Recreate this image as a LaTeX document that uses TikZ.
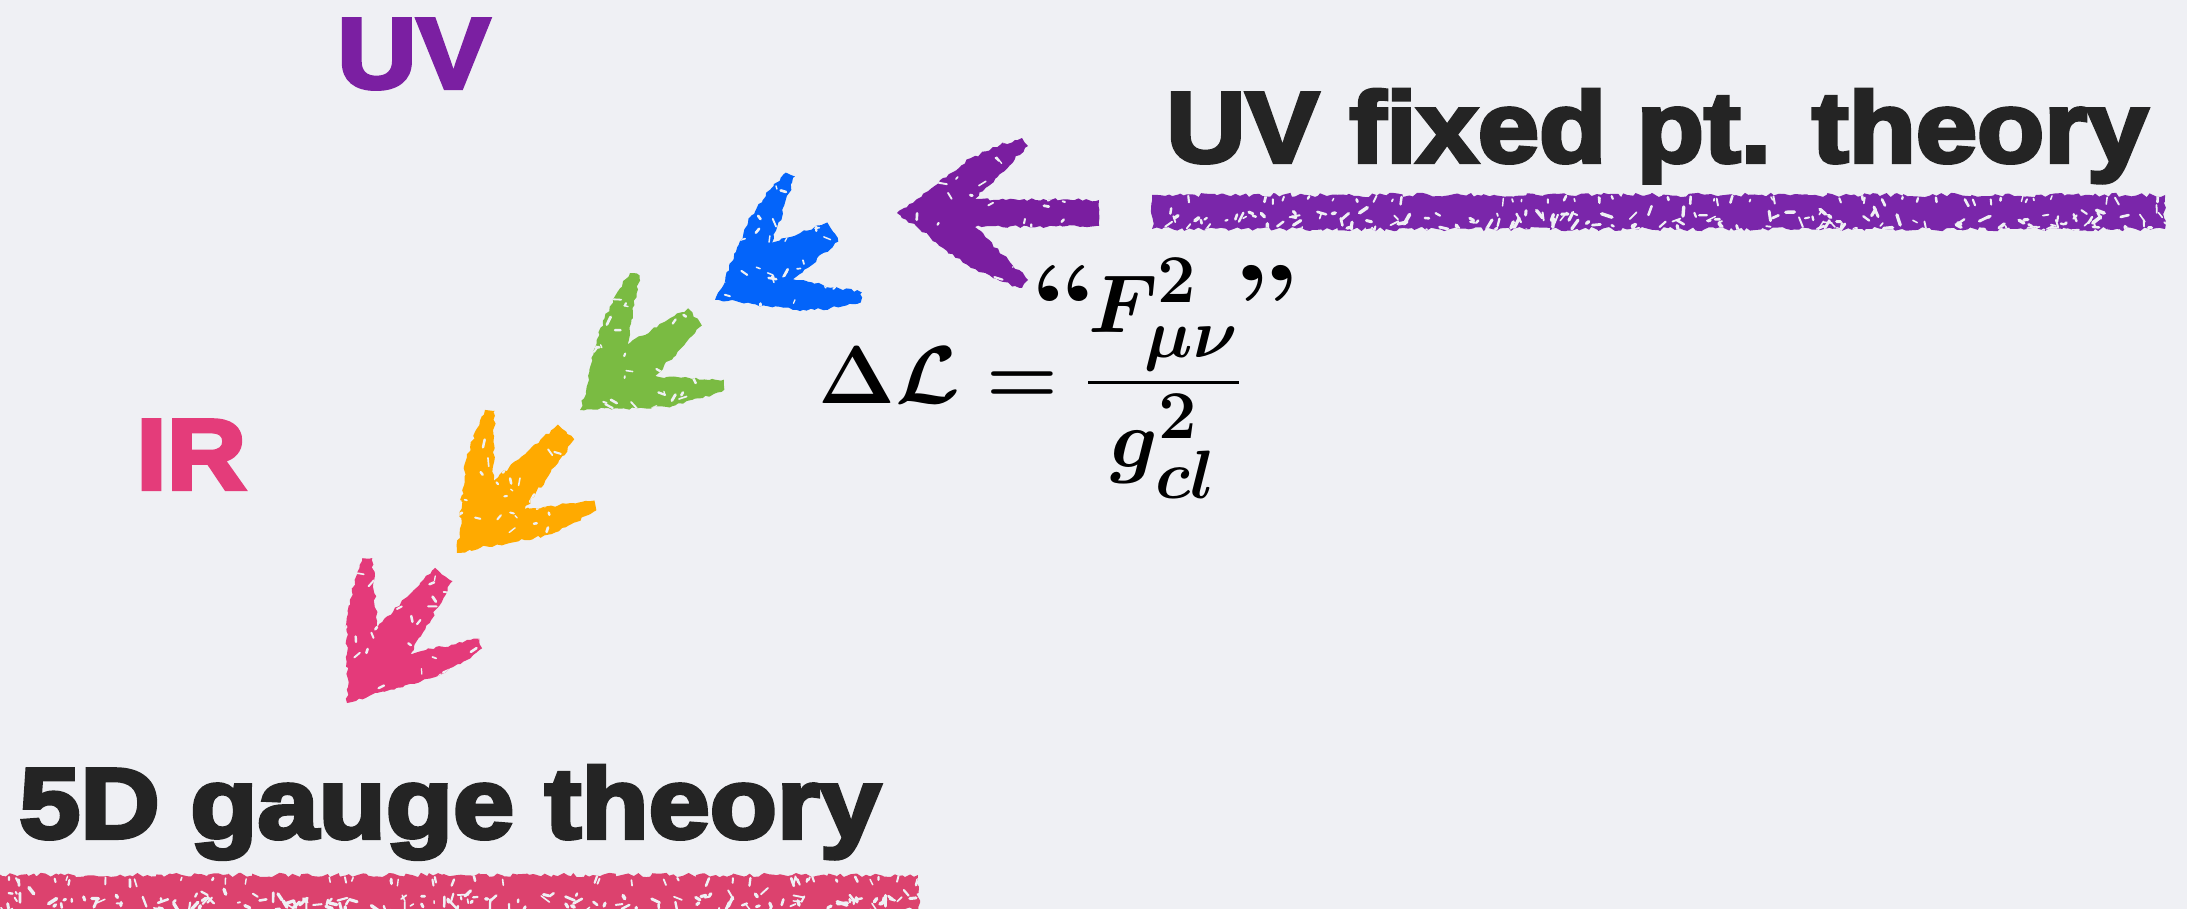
\documentclass[tikz,border=0pt]{standalone}
\usepackage{fontspec}
\usepackage{amsmath}
\usepackage{graphicx}
\usetikzlibrary{decorations.pathmorphing}
\newfontfamily\heavy[FakeStretch=1.10,BoldFeatures={FakeBold=4}]{Liberation Sans}
\definecolor{bgc}{RGB}{239,240,244}
\definecolor{ink}{RGB}{36,36,36}
\definecolor{uvpurple}{RGB}{123,31,162}
\definecolor{irpink}{RGB}{228,60,122}
\definecolor{apurple}{RGB}{122,30,160}
\definecolor{ablue}{RGB}{3,100,250}
\definecolor{agreen}{RGB}{122,187,66}
\definecolor{aorange}{RGB}{255,170,0}
\definecolor{apink}{RGB}{228,58,122}
\definecolor{lpurple}{RGB}{122,38,170}
\definecolor{lpink}{RGB}{220,66,110}
\newsavebox\formbox
\newcommand\bigquote[1]{\raisebox{-0.09em}{\scalebox{1.5}[1.3]{\textbf{#1}}}}
\tikzset{
  bigtext/.style={anchor=base west,inner sep=0pt,text=ink,font=\heavy\bfseries\fontsize{100}{104}\selectfont},
  labtext/.style={anchor=base west,inner sep=0pt,font=\heavy\bfseries\fontsize{100}{104}\selectfont},
  rough/.style={decorate,decoration={random steps,segment length=4pt,amplitude=1.5pt}},
  roughline/.style={decorate,decoration={random steps,segment length=4pt,amplitude=2.2pt}},
  speck/.style={bgc,line cap=round}
}
% #1 name, #2 x, #3 y, #4 angle, #5 shaft length, #6 colour, #7 seed, #8 notch half-width, #9 end half-width
\newcommand\chalkarrow[9]{%
\begin{scope}[shift={(#2,#3)},rotate=#4]
\coordinate (#1) at (0,0);
\pgfmathsetseed{#7}
\begin{scope}
\clip[rough] (0,0) -- (20,14) -- (46,35) -- (74,55) -- (103,68) -- (118,73) -- (125,75) -- (131,67) -- (78,#8) -- (#5,#9) -- (#5,-#9) -- (78,-#8) -- (131,-67) -- (125,-75) -- (118,-73) -- (103,-68) -- (74,-55) -- (46,-35) -- (20,-14) -- cycle;
\fill[#6] (-10,-85) rectangle (#5+10,85);
\foreach \k in {1,...,50}{%
  \pgfmathsetmacro\qx{10+rnd*(#5-10)}%
  \pgfmathsetmacro\qy{rand*72}%
  \pgfmathsetmacro\qr{rnd*360}%
  \pgfmathsetmacro\ql{2+rnd*7}%
  \pgfmathsetmacro\qw{1.2+rnd*1.6}%
  \draw[speck,line width=\qw pt] (\qx,\qy) -- ++(\qr:\ql);
}
\end{scope}
\end{scope}}
% #1 name, #2 x1, #3 y1, #4 x2, #5 y2, #6 colour, #7 seed
\newcommand\chalkline[7]{%
\coordinate (#1) at (#2,#3);
\pgfmathsetseed{#7}
\begin{scope}
\clip[roughline] (#2,#3) rectangle (#4,#5);
\fill[#6] (#2-5,#3-5) rectangle (#4+5,#5+5);
\foreach \k in {1,...,170}{%
  \pgfmathsetmacro\qx{#2+rnd*(#4-#2)}%
  \pgfmathsetmacro\qy{#3+(0.5+0.55*rnd)*(#5-#3)}%
  \pgfmathsetmacro\qr{rnd*360}%
  \pgfmathsetmacro\ql{2+rnd*9}%
  \pgfmathsetmacro\qw{1.4+rnd*2.2}%
  \draw[speck,line width=\qw pt] (\qx,\qy) -- ++(\qr:\ql);
}
\foreach \k in {1,...,45}{%
  \pgfmathsetmacro\qx{#2+rnd*(#4-#2)}%
  \pgfmathsetmacro\qy{#3+(0.02+0.12*rnd)*(#5-#3)}%
  \pgfmathsetmacro\qr{60+rnd*60}%
  \pgfmathsetmacro\ql{2+rnd*6}%
  \pgfmathsetmacro\qw{1.4+rnd*1.4}%
  \draw[speck,line width=\qw pt] (\qx,\qy) -- ++(\qr:\ql);
}
\end{scope}}
\begin{document}
\sbox\formbox{\scalebox{3.3}{\Huge\boldmath$\displaystyle \Delta\mathcal{L}=\frac{\llap{\bigquote{\char"201C}\kern-0.12em}F^2_{\mu\nu}\rlap{\kern-0.08em\bigquote{\char"201D}}}{g^2_{cl}}$}}%
\begin{tikzpicture}[x=1pt,y=-1pt]
\useasboundingbox (0,0) rectangle (2187,909);
\fill[bgc] (0,0) rectangle (2187,909);

% labels
\node[labtext,text=uvpurple] (uv) at (337,88) {UV};
\node[labtext,text=irpink] (ir) at (136,489) {IR};
\node[bigtext] (uvfixed) at (1166,162) {UV fixed pt. theory};
\node[bigtext] (fived) at (19,838) {5D gauge theory};

% underlines
\chalkline{ulpurple}{1152}{195}{2165}{229}{lpurple}{11}
\chalkline{ulpink}{-5}{875}{918}{912}{lpink}{23}

% arrows
\chalkarrow{arpurple}{897}{213}{0}{202}{apurple}{5}{14}{13}
\chalkarrow{arblue}{715}{300}{30}{136}{ablue}{7}{21}{11}
\chalkarrow{argreen}{580}{410}{39}{148}{agreen}{13}{21}{11}
\chalkarrow{arorange}{457}{553}{48}{163}{aorange}{17}{21}{11}
\chalkarrow{arpink}{347}{703}{53}{161}{apink}{19}{21}{11}

% formula
\node[anchor=base west,inner sep=0pt] (formula) at (818,403) {\usebox\formbox};
\end{tikzpicture}
\end{document}
